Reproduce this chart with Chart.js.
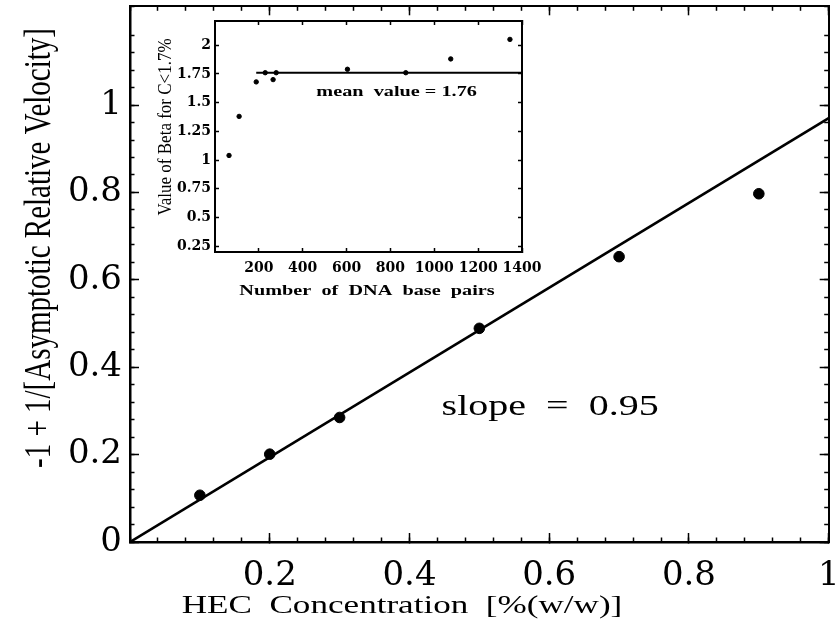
<!DOCTYPE html>
<html>
<head>
<meta charset="utf-8">
<script src="https://cdn.jsdelivr.net/npm/chart.js@4.4.1/dist/chart.umd.min.js"></script>
<style>
  html, body { margin: 0; padding: 0; background: #fff; }
  #wrap { position: relative; width: 835px; height: 641px; overflow: hidden; }
  #mainChart { position: absolute; left: 0; top: 0; }
  #insetChart { position: absolute; left: 150px; top: 15px; }
</style>
</head>
<body>
<div id="wrap">
  <canvas id="mainChart" width="835" height="641"></canvas>
  <canvas id="insetChart" width="410" height="290"></canvas>
</div>
<script>
// main plot: HEC concentration vs -1 + 1/[asymptotic relative velocity]
const hecConc = [0.1, 0.2, 0.3, 0.5, 0.7, 0.9];
const velocityTerm = [0.107, 0.201, 0.285, 0.489, 0.653, 0.797];
const fitConc = [0, 1];
const fitTerm = [0, 0.97];
const mainXTicks = [0.2, 0.4, 0.6, 0.8, 1];
const mainYTicks = [0, 0.2, 0.4, 0.6, 0.8, 1];

// inset: beta vs number of DNA base pairs
const basePairs = [64, 110, 188, 229, 265, 279, 604, 870, 1075, 1345];
const betaValues = [1.04, 1.38, 1.68, 1.76, 1.70, 1.76, 1.79, 1.76, 1.88, 2.05];
const meanPairs = [188, 1400];
const meanBeta = [1.76, 1.76];
const insetXTicks = [200, 400, 600, 800, 1000, 1200, 1400];
const insetYTicks = [0.25, 0.5, 0.75, 1, 1.25, 1.5, 1.75, 2];


function toPoints(xs, ys) {
    return xs.map((x, i) => ({ x: x, y: ys[i] }));
}

// one side of the frame: border + inward ticks, fixed box size
function frameAxis(o) {
    const axis = {
        type: 'linear',
        position: o.position,
        min: o.min,
        max: o.max,
        weight: o.weight || 0,
        afterFit: function (s) {
            if (s.isHorizontal()) s.height = o.size || 0;
            else s.width = o.size || 0;
            s.paddingTop = s.paddingBottom = s.paddingLeft = s.paddingRight = 0;
        },
        border: { display: !!o.border, color: '#000', width: o.borderWidth || 2.5 },
        grid: {
            drawOnChartArea: false,
            drawTicks: true,
            tickLength: -o.tick,
            tickWidth: o.tickWidth || 1.5,
            tickColor: '#000'
        },
        ticks: { display: false, autoSkip: false, stepSize: o.step }
    };
    if (o.values) {
        axis.afterBuildTicks = function (s) {
            s.ticks = o.values.map(v => ({ value: v }));
        };
    }
    if (o.labels) {
        axis.ticks = {
            display: true,
            autoSkip: false,
            maxRotation: 0,
            minRotation: 0,
            padding: o.labels.padding,
            color: '#000',
            font: o.labels.font,
            callback: v => String(v)
        };
    }
    return axis;
}

// text squeezed/stretched like the scanned figure
function drawText(ctx, text, x, y, rot, stretch, font, align) {
    ctx.save();
    ctx.translate(x, y);
    ctx.rotate(rot);
    if (rot === 0) ctx.scale(stretch, 1);
    else ctx.scale(1, stretch);
    ctx.font = font;
    ctx.fillStyle = '#000';
    ctx.textAlign = align || 'center';
    ctx.textBaseline = 'middle';
    ctx.fillText(text, 0, 0);
    ctx.restore();
}

const mainText = {
    id: 'mainText',
    afterDraw(chart) {
        const ctx = chart.ctx;
        const xs = chart.scales.x;
        const ys = chart.scales.y;
        drawText(ctx, '-1 + 1/[Asymptotic Relative Velocity]', 40, 248, -Math.PI / 2, 1.3, '29px "Liberation Serif"');
        drawText(ctx, 'HEC  Concentration  [%(w/w)]', 402, 606, 0, 1.35, '26px "Liberation Serif"');
        drawText(ctx, 'slope  =  0.95', xs.getPixelForValue(0.446), ys.getPixelForValue(0.308), 0, 1.38, '29px "Liberation Serif"', 'left');
    }
};

const insetText = {
    id: 'insetText',
    afterDraw(chart) {
        const ctx = chart.ctx;
        const xs = chart.scales.x;
        const ys = chart.scales.y;
        drawText(ctx, 'Value of Beta for C<1.7%', 16, 112, -Math.PI / 2, 1.15, '17px "Liberation Serif"');
        drawText(ctx, 'Number  of  DNA  base  pairs', 217, 276, 0, 1.35, 'bold 15px "Liberation Serif"');
        drawText(ctx, 'mean  value = 1.76', xs.getPixelForValue(462), ys.getPixelForValue(1.595), 0, 1.35, 'bold 15px "Liberation Serif"', 'left');
    }
};

function renderMain() {
    const tickFont = { family: 'DejaVu Serif', size: 34 };
    new Chart(document.getElementById('mainChart'), {
        type: 'scatter',
        data: {
            datasets: [{
                label: 'measured',
                data: toPoints(hecConc, velocityTerm),
                backgroundColor: '#000',
                borderColor: '#000',
                pointRadius: 5.3,
                pointHoverRadius: 5.3
            }, {
                label: 'fit',
                data: toPoints(fitConc, fitTerm),
                showLine: true,
                borderColor: '#000',
                borderWidth: 2.6,
                pointRadius: 0,
                fill: false
            }]
        },
        options: {
            responsive: false,
            animation: false,
            layout: { padding: { top: 5, right: 5, left: 0, bottom: 0 } },
            plugins: { legend: { display: false }, tooltip: { enabled: false } },
            scales: {
                x: frameAxis({ position: 'bottom', min: 0, max: 1, values: mainXTicks, size: 99, weight: 1, border: true, tick: 9,
                    labels: { padding: 23, font: tickFont } }),
                xMinor: frameAxis({ position: 'bottom', min: 0, max: 1, step: 0.04, tick: 4.5 }),
                xTop: frameAxis({ position: 'top', min: 0, max: 1, values: mainXTicks, border: true, borderWidth: 2, tick: 9 }),
                xTopMinor: frameAxis({ position: 'top', min: 0, max: 1, step: 0.04, tick: 4.5 }),
                y: frameAxis({ position: 'left', min: 0, max: 1.226, values: mainYTicks, size: 130, weight: 1, border: true, tick: 9,
                    labels: { padding: 17, font: tickFont } }),
                yMinor: frameAxis({ position: 'left', min: 0, max: 1.226, step: 0.04, tick: 4.5 }),
                yRight: frameAxis({ position: 'right', min: 0, max: 1.226, values: mainYTicks, border: true, borderWidth: 2, tick: 9 }),
                yRightMinor: frameAxis({ position: 'right', min: 0, max: 1.226, step: 0.04, tick: 4.5 })
            }
        },
        plugins: [mainText]
    });
}

function renderInset() {
    const tickFont = { family: 'DejaVu Serif', size: 14, weight: 'bold' };
    new Chart(document.getElementById('insetChart'), {
        type: 'scatter',
        data: {
            datasets: [{
                label: 'beta',
                data: toPoints(basePairs, betaValues),
                backgroundColor: '#000',
                borderColor: '#000',
                pointRadius: 2.2,
                pointHoverRadius: 2.2
            }, {
                label: 'mean',
                data: toPoints(meanPairs, meanBeta),
                showLine: true,
                borderColor: '#000',
                borderWidth: 2,
                pointRadius: 0,
                fill: false
            }]
        },
        options: {
            responsive: false,
            animation: false,
            layout: { padding: { top: 6, right: 38, left: 0, bottom: 0 } },
            plugins: { legend: { display: false }, tooltip: { enabled: false } },
            scales: {
                x: frameAxis({ position: 'bottom', min: 0, max: 1400, values: insetXTicks, size: 53, weight: 1, border: true, borderWidth: 2, tick: 4,
                    labels: { padding: 12, font: tickFont } }),
                xTop: frameAxis({ position: 'top', min: 0, max: 1400, values: insetXTicks, border: true, borderWidth: 2, tick: 4 }),
                y: frameAxis({ position: 'left', min: 0.2, max: 2.21, values: insetYTicks, size: 65, weight: 1, border: true, borderWidth: 2, tick: 4,
                    labels: { padding: 8, font: tickFont } }),
                yRight: frameAxis({ position: 'right', min: 0.2, max: 2.21, values: insetYTicks, border: true, borderWidth: 2, tick: 4 })
            }
        },
        plugins: [insetText]
    });
}

renderMain();
renderInset();
</script>
</body>
</html>
